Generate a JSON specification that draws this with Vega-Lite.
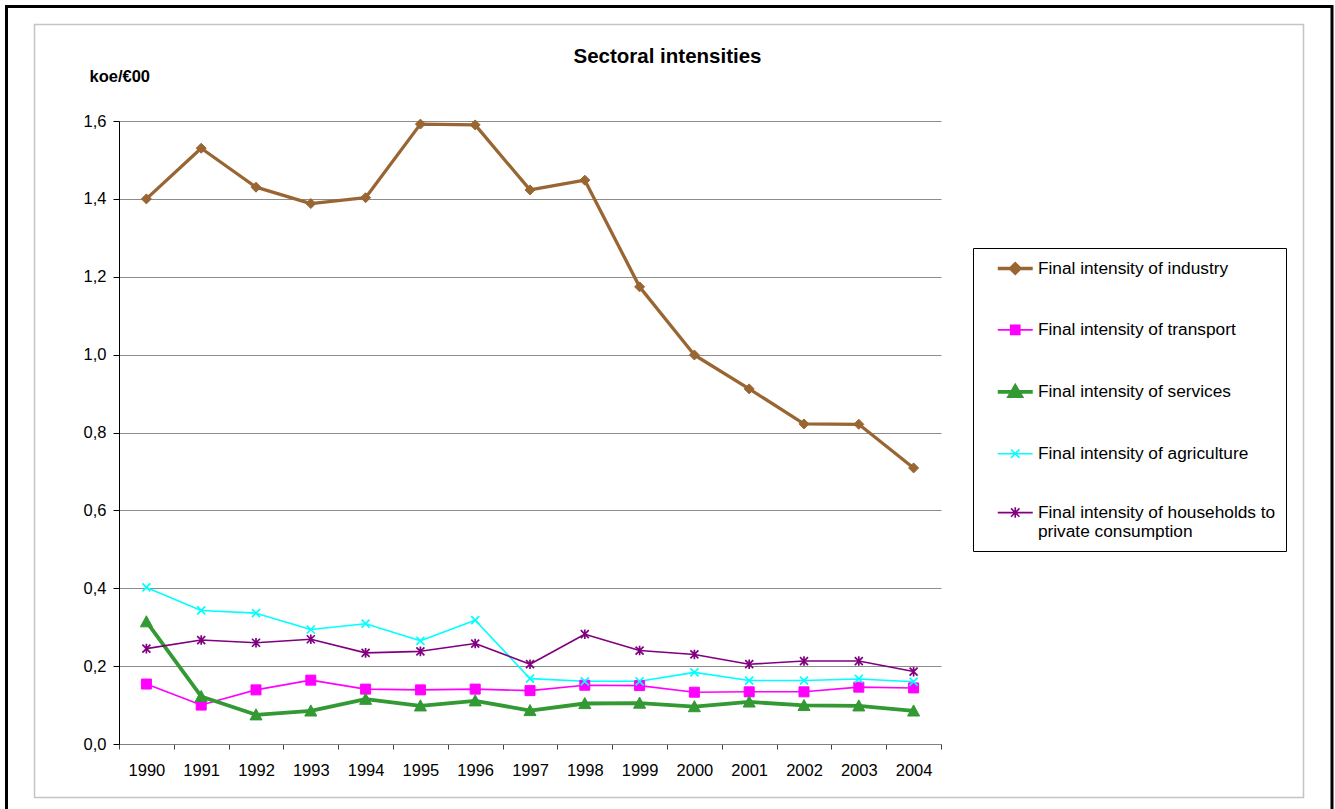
{
  "$schema": "https://vega.github.io/schema/vega-lite/v6.json",
  "autosize": {"type": "none"},
  "padding": {"left": 119, "top": 121, "right": 394, "bottom": 65},
  "width": 822,
  "height": 623,
  "background": "white",
  "config": {
    "font": "Liberation Sans",
    "view": {"stroke": null},
    "axis": {"labelColor": "black", "titleColor": "black", "labelFont": "Liberation Sans", "titleFont": "Liberation Sans"}
  },
  "title": {
    "text": "Sectoral intensities",
    "font": "Liberation Sans",
    "fontSize": 20.5,
    "fontWeight": "bold",
    "color": "black",
    "anchor": "middle",
    "frame": "group",
    "dx": 137.5,
    "baseline": "alphabetic",
    "offset": -78.5
  },
  "datasets": {
    "intensities": [
      {"year": 1990, "series": "Final intensity of industry", "value": 1.400},
      {"year": 1991, "series": "Final intensity of industry", "value": 1.530},
      {"year": 1992, "series": "Final intensity of industry", "value": 1.430},
      {"year": 1993, "series": "Final intensity of industry", "value": 1.388},
      {"year": 1994, "series": "Final intensity of industry", "value": 1.403},
      {"year": 1995, "series": "Final intensity of industry", "value": 1.592},
      {"year": 1996, "series": "Final intensity of industry", "value": 1.590},
      {"year": 1997, "series": "Final intensity of industry", "value": 1.423},
      {"year": 1998, "series": "Final intensity of industry", "value": 1.448},
      {"year": 1999, "series": "Final intensity of industry", "value": 1.174},
      {"year": 2000, "series": "Final intensity of industry", "value": 0.999},
      {"year": 2001, "series": "Final intensity of industry", "value": 0.912},
      {"year": 2002, "series": "Final intensity of industry", "value": 0.822},
      {"year": 2003, "series": "Final intensity of industry", "value": 0.821},
      {"year": 2004, "series": "Final intensity of industry", "value": 0.709},
      {"year": 1990, "series": "Final intensity of transport", "value": 0.154},
      {"year": 1991, "series": "Final intensity of transport", "value": 0.100},
      {"year": 1992, "series": "Final intensity of transport", "value": 0.139},
      {"year": 1993, "series": "Final intensity of transport", "value": 0.164},
      {"year": 1994, "series": "Final intensity of transport", "value": 0.141},
      {"year": 1995, "series": "Final intensity of transport", "value": 0.139},
      {"year": 1996, "series": "Final intensity of transport", "value": 0.141},
      {"year": 1997, "series": "Final intensity of transport", "value": 0.137},
      {"year": 1998, "series": "Final intensity of transport", "value": 0.151},
      {"year": 1999, "series": "Final intensity of transport", "value": 0.150},
      {"year": 2000, "series": "Final intensity of transport", "value": 0.133},
      {"year": 2001, "series": "Final intensity of transport", "value": 0.134},
      {"year": 2002, "series": "Final intensity of transport", "value": 0.134},
      {"year": 2003, "series": "Final intensity of transport", "value": 0.146},
      {"year": 2004, "series": "Final intensity of transport", "value": 0.144},
      {"year": 1990, "series": "Final intensity of services", "value": 0.314},
      {"year": 1991, "series": "Final intensity of services", "value": 0.122},
      {"year": 1992, "series": "Final intensity of services", "value": 0.075},
      {"year": 1993, "series": "Final intensity of services", "value": 0.085},
      {"year": 1994, "series": "Final intensity of services", "value": 0.115},
      {"year": 1995, "series": "Final intensity of services", "value": 0.098},
      {"year": 1996, "series": "Final intensity of services", "value": 0.111},
      {"year": 1997, "series": "Final intensity of services", "value": 0.086},
      {"year": 1998, "series": "Final intensity of services", "value": 0.104},
      {"year": 1999, "series": "Final intensity of services", "value": 0.105},
      {"year": 2000, "series": "Final intensity of services", "value": 0.096},
      {"year": 2001, "series": "Final intensity of services", "value": 0.108},
      {"year": 2002, "series": "Final intensity of services", "value": 0.099},
      {"year": 2003, "series": "Final intensity of services", "value": 0.098},
      {"year": 2004, "series": "Final intensity of services", "value": 0.085},
      {"year": 1990, "series": "Final intensity of agriculture", "value": 0.402},
      {"year": 1991, "series": "Final intensity of agriculture", "value": 0.343},
      {"year": 1992, "series": "Final intensity of agriculture", "value": 0.336},
      {"year": 1993, "series": "Final intensity of agriculture", "value": 0.294},
      {"year": 1994, "series": "Final intensity of agriculture", "value": 0.309},
      {"year": 1995, "series": "Final intensity of agriculture", "value": 0.265},
      {"year": 1996, "series": "Final intensity of agriculture", "value": 0.318},
      {"year": 1997, "series": "Final intensity of agriculture", "value": 0.168},
      {"year": 1998, "series": "Final intensity of agriculture", "value": 0.161},
      {"year": 1999, "series": "Final intensity of agriculture", "value": 0.161},
      {"year": 2000, "series": "Final intensity of agriculture", "value": 0.184},
      {"year": 2001, "series": "Final intensity of agriculture", "value": 0.163},
      {"year": 2002, "series": "Final intensity of agriculture", "value": 0.163},
      {"year": 2003, "series": "Final intensity of agriculture", "value": 0.167},
      {"year": 2004, "series": "Final intensity of agriculture", "value": 0.160},
      {"year": 1990, "series": "Final intensity of households to private consumption", "value": 0.245},
      {"year": 1991, "series": "Final intensity of households to private consumption", "value": 0.267},
      {"year": 1992, "series": "Final intensity of households to private consumption", "value": 0.260},
      {"year": 1993, "series": "Final intensity of households to private consumption", "value": 0.269},
      {"year": 1994, "series": "Final intensity of households to private consumption", "value": 0.234},
      {"year": 1995, "series": "Final intensity of households to private consumption", "value": 0.238},
      {"year": 1996, "series": "Final intensity of households to private consumption", "value": 0.258},
      {"year": 1997, "series": "Final intensity of households to private consumption", "value": 0.205},
      {"year": 1998, "series": "Final intensity of households to private consumption", "value": 0.282},
      {"year": 1999, "series": "Final intensity of households to private consumption", "value": 0.240},
      {"year": 2000, "series": "Final intensity of households to private consumption", "value": 0.230},
      {"year": 2001, "series": "Final intensity of households to private consumption", "value": 0.205},
      {"year": 2002, "series": "Final intensity of households to private consumption", "value": 0.213},
      {"year": 2003, "series": "Final intensity of households to private consumption", "value": 0.213},
      {"year": 2004, "series": "Final intensity of households to private consumption", "value": 0.186}
    ]
  },
  "layer": [
    {
      "data": {"name": "intensities"},
      "mark": {"type": "line", "strokeJoin": "round"},
      "encoding": {
        "x": {
          "field": "year",
          "type": "quantitative",
          "scale": {"domain": [1989.5, 2004.5], "nice": false, "zero": false},
          "axis": {
            "title": null,
            "values": [1989.5, 1990.5, 1991.5, 1992.5, 1993.5, 1994.5, 1995.5, 1996.5, 1997.5, 1998.5, 1999.5, 2000.5, 2001.5, 2002.5, 2003.5, 2004.5],
            "labelExpr": "datum.value > 2004 ? '' : format(datum.value + 0.5, 'd')",
            "labelOffset": 27.4,
            "labelFlush": false,
            "labelOverlap": false,
            "labelFontSize": 16.5,
            "labelPadding": 13,
            "grid": false,
            "tickSize": 5,
            "tickColor": "#404040",
            "domainColor": "#808080"
          }
        },
        "y": {
          "field": "value",
          "type": "quantitative",
          "scale": {"domain": [0, 1.6], "nice": false, "zero": true},
          "axis": {
            "title": "koe/€00",
            "titleAngle": 0,
            "titleAlign": "left",
            "titleBaseline": "alphabetic",
            "titleX": -30,
            "titleY": -39.5,
            "titleFontSize": 16.5,
            "titleFontWeight": "bold",
            "values": [0, 0.2, 0.4, 0.6, 0.8, 1.0, 1.2, 1.4, 1.6],
            "labelExpr": "replace(format(datum.value, '.1f'), '.', ',')",
            "labelFontSize": 16.5,
            "labelPadding": 7,
            "tickSize": 6,
            "tickColor": "black",
            "domainColor": "black",
            "gridColor": "#8c8c8c",
            "gridWidth": 1
          }
        },
        "color": {
          "field": "series",
          "type": "nominal",
          "scale": {
            "domain": ["Final intensity of industry", "Final intensity of transport", "Final intensity of services", "Final intensity of agriculture", "Final intensity of households to private consumption"],
            "range": ["#996633", "#ff00ff", "#339933", "#00ffff", "#800080"]
          },
          "legend": {
            "title": null,
            "orient": "none",
            "legendX": 854,
            "legendY": 127,
            "strokeColor": "black",
            "fillColor": "white",
            "padding": 10,
            "symbolOffset": 21.25,
            "symbolSize": 306,
            "labelFont": "Liberation Sans",
            "labelFontSize": 17.3,
            "labelColor": "black",
            "labelOffset": 11.65,
            "labelLimit": 400,
            "rowPadding": 39.9,
            "labelExpr": "datum.label == 'Final intensity of households to private consumption' ? ['Final intensity of households to', 'private consumption'] : datum.label",
            "encode": {
              "symbols": {
                "update": {
                  "shape": {"signal": "datum.value === 'Final intensity of industry' ? 'M-2,0L2,0M-0.54,0L0,-0.54L0.54,0L0,0.54Z' : datum.value === 'Final intensity of transport' ? 'M-2,0L2,0M-0.52,-0.52L0.52,-0.52L0.52,0.52L-0.52,0.52Z' : datum.value === 'Final intensity of services' ? 'M-2,0L2,0M0,-0.6L0.64,0.48L-0.64,0.48Z' : datum.value === 'Final intensity of agriculture' ? 'M-2,0L2,0M-0.48,-0.48L0.48,0.48M-0.48,0.48L0.48,-0.48' : 'M-2,0L2,0M-0.48,-0.48L0.48,0.48M-0.48,0.48L0.48,-0.48M0,-0.6L0,0.6'"},
                  "fill": {"signal": "datum.value === 'Final intensity of agriculture' || datum.value === 'Final intensity of households to private consumption' ? 'transparent' : scale('color', datum.value)"},
                  "strokeWidth": {"signal": "datum.value === 'Final intensity of industry' || datum.value === 'Final intensity of services' ? 3.3 : 1.6"}
                }
              }
            }
          }
        },
        "strokeWidth": {
          "field": "series",
          "type": "nominal",
          "scale": {
            "type": "ordinal",
            "domain": ["Final intensity of industry", "Final intensity of transport", "Final intensity of services", "Final intensity of agriculture", "Final intensity of households to private consumption"],
            "range": [3.3, 1.6, 3.8, 1.6, 1.6]
          },
          "legend": null
        }
      }
    },
    {
      "data": {"name": "intensities"},
      "transform": [{"filter": {"field": "series", "equal": "Final intensity of industry"}}],
      "mark": {"type": "point", "shape": "M0,-1L1,0L0,1L-1,0Z", "size": 100, "filled": true, "fill": "#996633", "stroke": "#996633", "strokeWidth": 1, "opacity": 1},
      "encoding": {"x": {"field": "year", "type": "quantitative"}, "y": {"field": "value", "type": "quantitative"}}
    },
    {
      "data": {"name": "intensities"},
      "transform": [{"filter": {"field": "series", "equal": "Final intensity of transport"}}],
      "mark": {"type": "point", "shape": "M-1,-1L1,-1L1,1L-1,1Z", "size": 100, "filled": true, "fill": "#ff00ff", "stroke": "#ff00ff", "strokeWidth": 1, "opacity": 1},
      "encoding": {"x": {"field": "year", "type": "quantitative"}, "y": {"field": "value", "type": "quantitative"}}
    },
    {
      "data": {"name": "intensities"},
      "transform": [{"filter": {"field": "series", "equal": "Final intensity of services"}}],
      "mark": {"type": "point", "shape": "M0,-1L1,0.85L-1,0.85Z", "size": 144, "filled": true, "fill": "#339933", "stroke": "#339933", "strokeWidth": 1, "opacity": 1},
      "encoding": {"x": {"field": "year", "type": "quantitative"}, "y": {"field": "value", "type": "quantitative"}}
    },
    {
      "data": {"name": "intensities"},
      "transform": [{"filter": {"field": "series", "equal": "Final intensity of agriculture"}}],
      "mark": {"type": "point", "shape": "M-1,-1L1,1M-1,1L1,-1", "size": 64, "filled": false, "stroke": "#00ffff", "strokeWidth": 1.7, "opacity": 1},
      "encoding": {"x": {"field": "year", "type": "quantitative"}, "y": {"field": "value", "type": "quantitative"}}
    },
    {
      "data": {"name": "intensities"},
      "transform": [{"filter": {"field": "series", "equal": "Final intensity of households to private consumption"}}],
      "mark": {"type": "point", "shape": "M-1,-1L1,1M-1,1L1,-1M0,-1.2L0,1.2", "size": 64, "filled": false, "stroke": "#800080", "strokeWidth": 1.7, "opacity": 1},
      "encoding": {"x": {"field": "year", "type": "quantitative"}, "y": {"field": "value", "type": "quantitative"}}
    },
    {
      "data": {"values": [{}]},
      "mark": {"type": "rect", "filled": false, "stroke": "#c4c4c4", "strokeWidth": 1.5, "clip": false},
      "encoding": {
        "x": {"datum": 1987.958, "type": "quantitative"},
        "x2": {"datum": 2011.115},
        "y": {"datum": 1.8478, "type": "quantitative"},
        "y2": {"datum": -0.1374}
      }
    },
    {
      "data": {"values": [{}]},
      "mark": {"type": "rect", "filled": false, "stroke": "black", "strokeWidth": 3, "clip": false},
      "encoding": {
        "x": {"datum": 1987.447, "type": "quantitative"},
        "x2": {"datum": 2011.635},
        "y": {"datum": 1.894, "type": "quantitative"},
        "y2": {"datum": -0.19}
      }
    }
  ]
}
